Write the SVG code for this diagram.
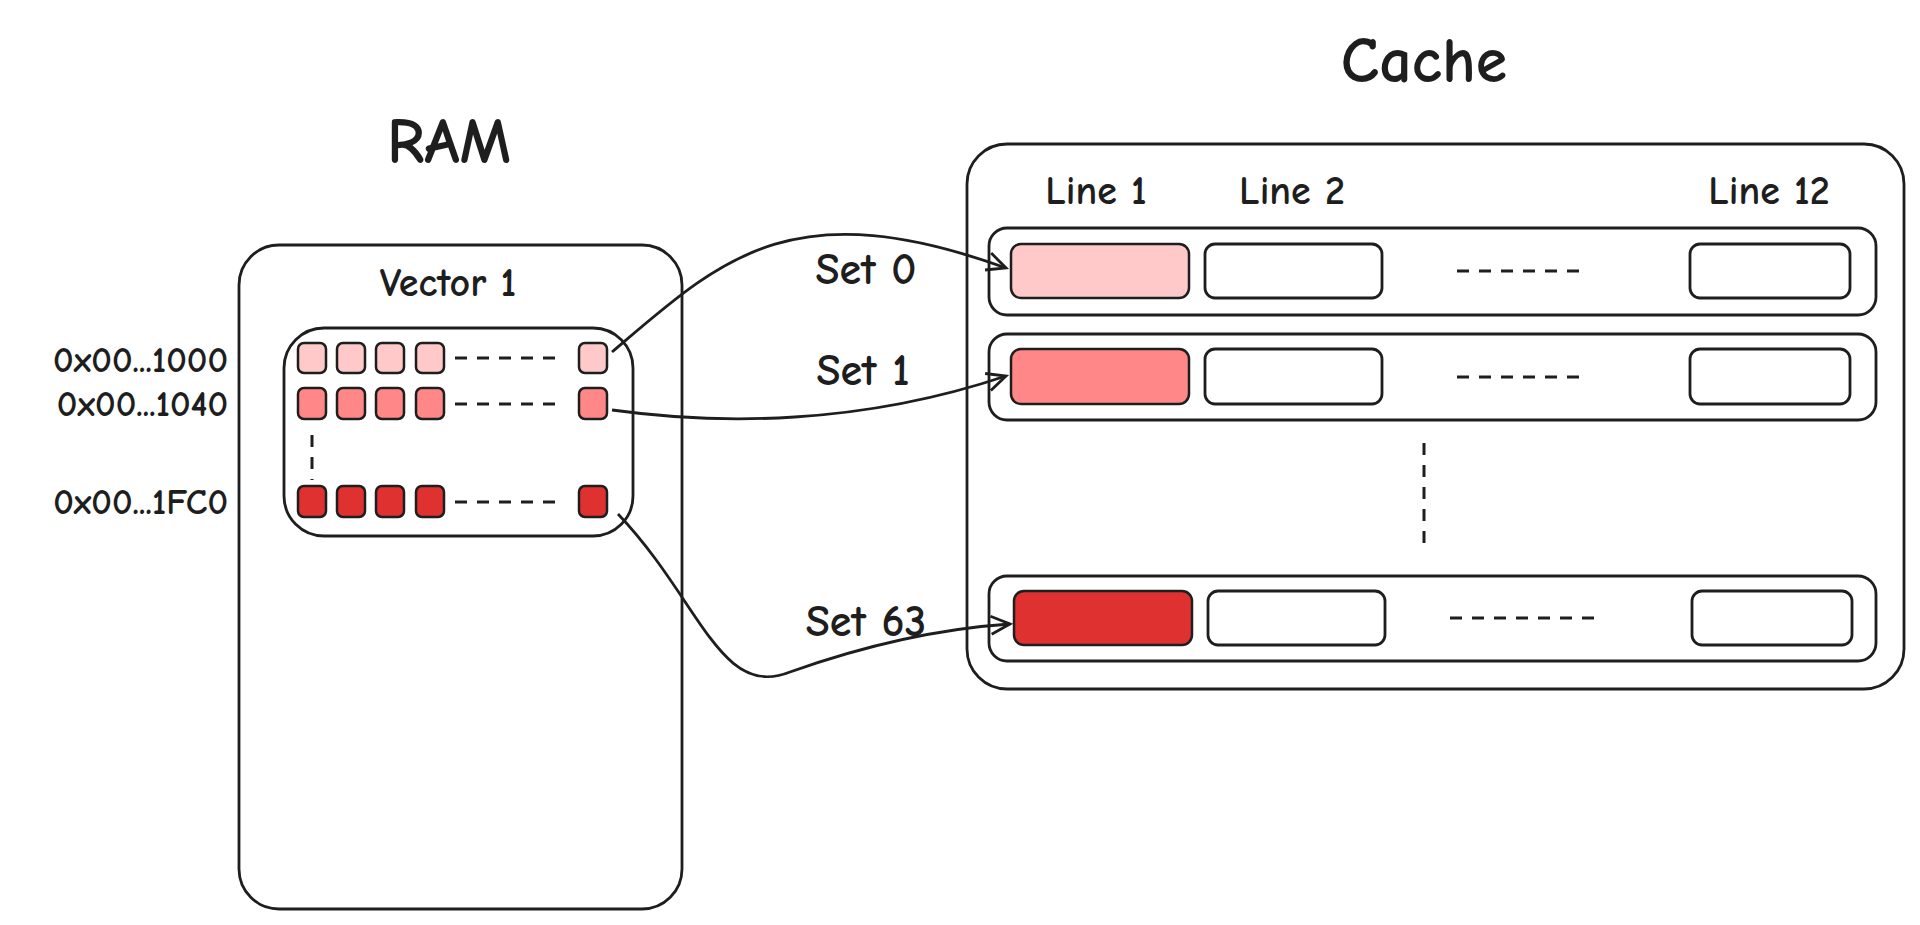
<svg xmlns="http://www.w3.org/2000/svg" width="1920" height="925" viewBox="0 0 1920 925">
<style>
text{font-family:"Comic Neue","Open Sans","Liberation Sans",sans-serif;fill:#1e1e1e;font-weight:bold}
.b{fill:#fff;stroke:#1e1e1e;stroke-width:2.8}
.s{stroke:#1e1e1e;stroke-width:2.5}
.c0{fill:#ffc9c9}.c1{fill:#ff8787}.c2{fill:#e03131}
.d{stroke:#1e1e1e;stroke-width:3;stroke-dasharray:12 10;fill:none}
.a{fill:none;stroke:#1e1e1e;stroke-width:2.8;marker-end:url(#ah)}
.t{font-size:40px;text-anchor:middle}
.st{font-size:44px;text-anchor:middle}
.l{font-size:36px;text-anchor:end}
</style>
<defs>
<marker id="ah" markerWidth="24" markerHeight="24" refX="21" refY="12" orient="auto" markerUnits="userSpaceOnUse"><path d="M2,3 L21,12 L2,21" fill="none" stroke="#1e1e1e" stroke-width="2.8"/></marker>
</defs>
<text x="449" y="163" font-size="64" text-anchor="middle">RAM</text>
<text x="1424" y="82" font-size="64" text-anchor="middle">Cache</text>
<g id="ram">
<rect class="b" x="239" y="245" width="443" height="664" rx="40"/>
<text class="t" x="448" y="296">Vector 1</text>
</g>
<g id="vector">
<rect class="b" x="284" y="328" width="349" height="208" rx="40"/>
<g class="s c0"><rect x="298" y="343" width="28" height="30" rx="6"/><rect x="337" y="343" width="28" height="30" rx="6"/><rect x="376" y="343" width="28" height="30" rx="6"/><rect x="416" y="343" width="28" height="30" rx="6"/><rect x="579" y="343" width="28" height="30" rx="6"/></g>
<g class="s c1"><rect x="298" y="388" width="28" height="31" rx="6"/><rect x="337" y="388" width="28" height="31" rx="6"/><rect x="376" y="388" width="28" height="31" rx="6"/><rect x="416" y="388" width="28" height="31" rx="6"/><rect x="579" y="388" width="28" height="31" rx="6"/></g>
<g class="s c2"><rect x="298" y="486" width="28" height="31" rx="6"/><rect x="337" y="486" width="28" height="31" rx="6"/><rect x="376" y="486" width="28" height="31" rx="6"/><rect x="416" y="486" width="28" height="31" rx="6"/><rect x="579" y="486" width="28" height="31" rx="6"/></g>
<path class="d" d="M455 358H557M455 404H557M455 502H557M312 435V480"/>
</g>
<text class="l" x="228" y="372">0x00...1000</text>
<text class="l" x="228" y="416">0x00...1040</text>
<text class="l" x="228" y="514">0x00...1FC0</text>
<g id="cache">
<rect class="b" x="967" y="144" width="937" height="545" rx="40"/>
<text class="t" x="1096" y="204">Line 1</text>
<text class="t" x="1292" y="204">Line 2</text>
<text class="t" x="1769" y="204">Line 12</text>
</g>
<g id="set0">
<rect class="b" x="989" y="228" width="887" height="87" rx="18"/>
<rect class="s c0" x="1011" y="244" width="178" height="54" rx="10"/>
<rect class="b" x="1205" y="244" width="177" height="54" rx="10"/>
<rect class="b" x="1690" y="244" width="160" height="54" rx="10"/>
<path class="d" d="M1457 271H1586"/>
</g>
<g id="set1">
<rect class="b" x="989" y="334" width="887" height="86" rx="18"/>
<rect class="s c1" x="1011" y="349" width="178" height="55" rx="10"/>
<rect class="b" x="1205" y="349" width="177" height="55" rx="10"/>
<rect class="b" x="1690" y="349" width="160" height="55" rx="10"/>
<path class="d" d="M1457 377H1586"/>
</g>
<path class="d" d="M1424 443V547"/>
<g id="set63">
<rect class="b" x="989" y="576" width="887" height="85" rx="18"/>
<rect class="s c2" x="1014" y="591" width="178" height="54" rx="10"/>
<rect class="b" x="1208" y="591" width="177" height="54" rx="10"/>
<rect class="b" x="1692" y="591" width="160" height="54" rx="10"/>
<path class="d" d="M1450 618H1596"/>
</g>
<text class="st" x="866" y="284">Set 0</text>
<text class="st" x="863" y="385">Set 1</text>
<text class="st" x="866" y="636">Set 63</text>
<g id="connectors">
<path class="a" d="M612 352 C720 260 790 190 1006 268"/>
<path class="a" d="M612 410 C720 425 860 425 1006 376"/>
<path class="a" d="M618 514 C700 600 720 700 790 672 C880 640 950 628 1010 624"/>
</g>
</svg>
